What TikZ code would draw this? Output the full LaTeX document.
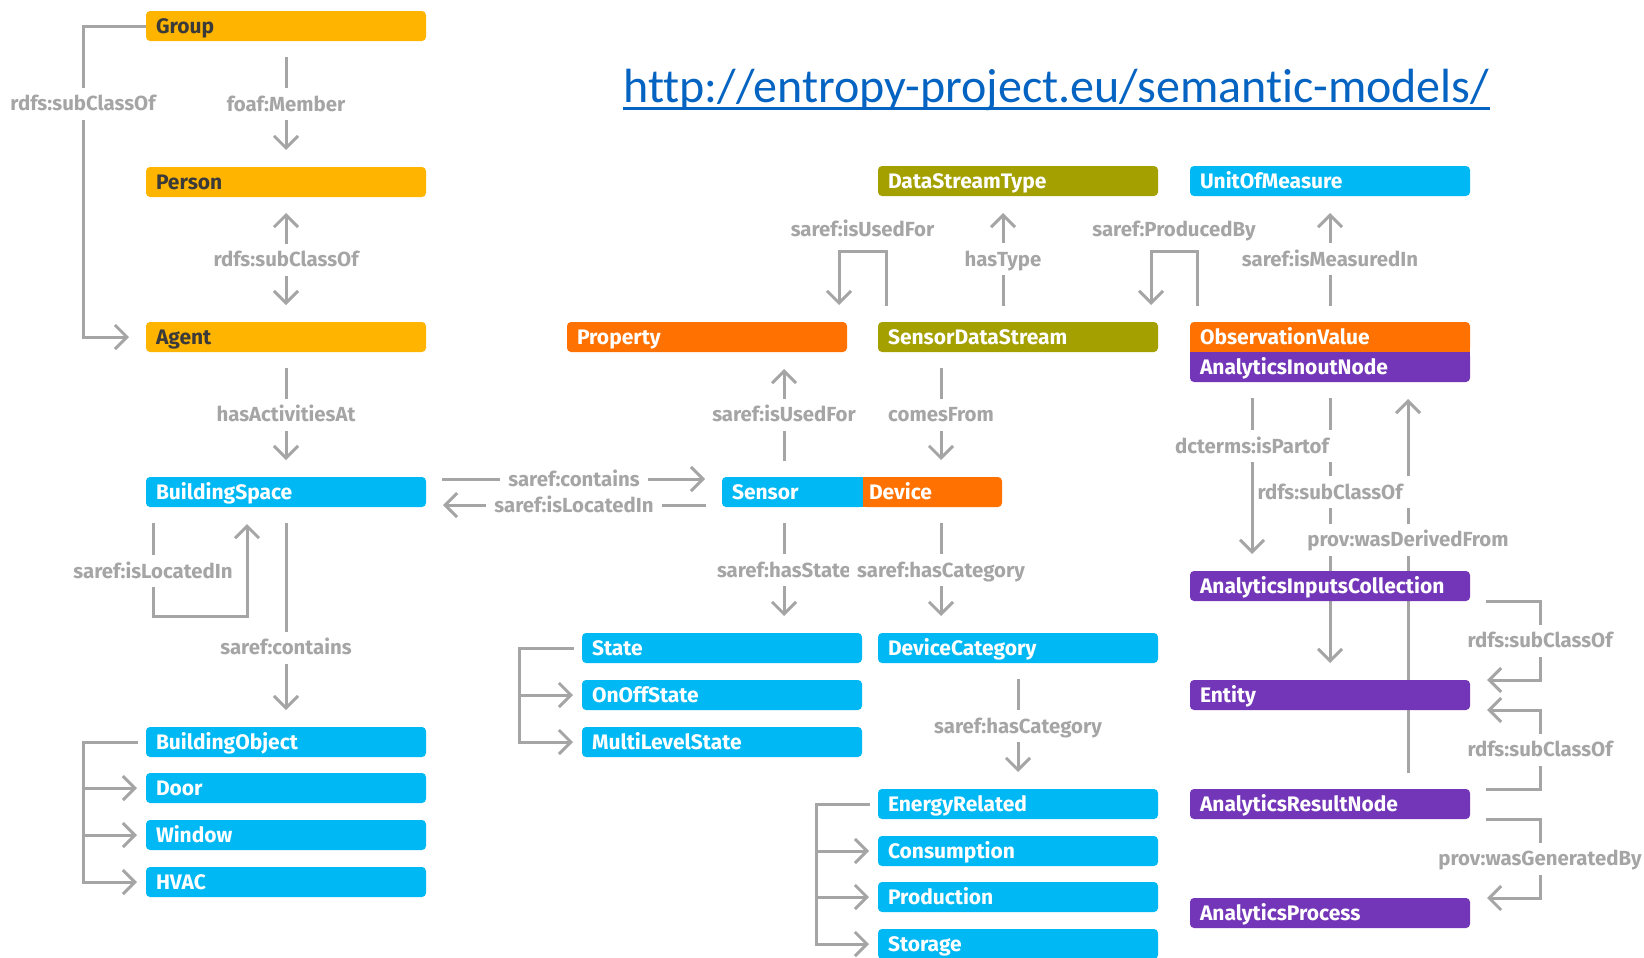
\documentclass[tikz,border=0pt]{standalone}
\usepackage{fontspec}
\setmainfont{Fira Sans}
\newfontfamily\linkfont{Carlito}[Ligatures=NoCommon]
\usetikzlibrary{arrows.meta,calc,positioning}
\definecolor{agentyellow}{HTML}{FFB400}
\definecolor{sarefblue}{HTML}{00B9F4}
\definecolor{sareforange}{HTML}{FF7100}
\definecolor{streamolive}{HTML}{A3A000}
\definecolor{provpurple}{HTML}{7436B8}
\definecolor{relgray}{HTML}{A5A5A5}
\definecolor{darktext}{HTML}{3A3A3A}
\definecolor{linkblue}{HTML}{0563C1}
\pgfdeclarelayer{bg}
\pgfsetlayers{bg,main}
\tikzset{
	barb/.tip={Straight Barb[length=6pt,width=12pt]},
	cls/.style={% class boxes with left aligned names
		rectangle, rounded corners=2pt,
		minimum width=140pt, minimum height=15pt,
		text width=130pt, inner xsep=5pt, outer sep=0pt,
		text height=7.2pt, text depth=0pt,
		align=left, anchor=north west,
		font=\bfseries\fontsize{10.5}{12}\selectfont, text=white
	},
	foaf/.style={cls, fill=agentyellow, text=darktext},
	saref/.style={cls, fill=sarefblue},
	prop/.style={cls, fill=sareforange},
	stream/.style={cls, fill=streamolive},
	prov/.style={cls, fill=provpurple},
	rel/.style={draw=relgray, line width=1.5pt, -barb,
		shorten <=8pt, shorten >=8.5pt},
	lbl/.style={fill=white, text=relgray,
		inner xsep=4pt, inner ysep=4.5pt,
		text height=7pt, text depth=0pt,
		font=\bfseries\fontsize{10.2}{12}\selectfont}
}

\begin{document}
\begin{tikzpicture}[x=0.5pt,y=-0.5pt]
	\useasboundingbox (0,0) rectangle (1644,958);
	% classes
	\node [foaf] (group) at (146,11) {Group};
	\node [foaf] (person) at (146,167) {Person};
	\node [foaf] (agent) at (146,322) {Agent};
	\node [saref] (bspace) at (146,477) {BuildingSpace};
	\node [saref] (bobject) at (146,727) {BuildingObject};
	\node [saref] (door) at (146,773) {Door};
	\node [saref] (window) at (146,820) {Window};
	\node [saref] (hvac) at (146,867) {HVAC};
	\node [prop] (property) at (567,322) {Property};
	\node [saref, minimum width=70.5pt, text width=60.5pt] (sensor) at (722,477) {Sensor};
	\node [prop, minimum width=69.5pt, text width=63.5pt, inner xsep=3pt] (device) at (sensor.north east) {Device};
	\node [saref] (state) at (582,633) {State};
	\node [saref] (onoff) at (582,680) {OnOffState};
	\node [saref] (multilevel) at (582,727) {MultiLevelState};
	\node [stream] (dstype) at (878,166) {DataStreamType};
	\node [stream] (sdstream) at (878,322) {SensorDataStream};
	\node [saref] (devcat) at (878,633) {DeviceCategory};
	\node [saref] (energy) at (878,789) {EnergyRelated};
	\node [saref] (consumption) at (878,836) {Consumption};
	\node [saref] (production) at (878,882) {Production};
	\node [saref] (storage) at (878,929) {Storage};
	\node [saref] (unit) at (1190,166) {UnitOfMeasure};
	\node [prop] (obsval) at (1190,322) {ObservationValue};
	\node [prov] (ainode) at (obsval.south west) {AnalyticsInoutNode};
	\node [prov] (aicoll) at (1190,571) {AnalyticsInputsCollection};
	\node [prov] (entity) at (1190,680) {Entity};
	\node [prov] (aresult) at (1190,789) {AnalyticsResultNode};
	\node [prov] (aprocess) at (1190,898) {AnalyticsProcess};
	\node [text=linkblue, font=\linkfont\fontsize{24}{28}\selectfont, inner sep=0pt, anchor=base west] (link) at (623,102) {http://entropy-project.eu/semantic-models/};
	\draw [linkblue, line width=1.5pt] ([yshift=-3pt]link.base west) -- ([yshift=-3pt]link.base east);

	\begin{pgfonlayer}{bg}
	% square joints of the split boxes
	\fill [sarefblue] ([xshift=-3pt]sensor.north east) rectangle (sensor.south east);
	\fill [sareforange] (device.north west) rectangle ([xshift=3pt]device.south west);
	\fill [sareforange] ([yshift=3pt]obsval.south west) rectangle (obsval.south east);
	\fill [provpurple] (ainode.north west) rectangle ([yshift=-3pt]ainode.north east);

	\draw [rel, shorten <=0pt] (group.west) -- ++(-63,0) |- node [lbl, pos=.125] {rdfs:subClassOf} (agent.west);
	\draw [rel] (group.south) -- node [lbl] {foaf:Member} (person.north);
	\draw [rel, barb-barb] (person.south) -- node [lbl] {rdfs:subClassOf} (agent.north);
	\draw [rel] (agent.south) -- node [lbl] {hasActivitiesAt} (bspace.north);
	\draw [rel] ([xshift=3.5pt]bspace.south west) -- node [lbl, pos=.59] {saref:isLocatedIn} ++(0,109) -| ([xshift=-19.5pt]bspace.south);
	\draw [rel] (bspace.south) -- node [lbl, pos=.64] {saref:contains} (bobject.north);
	\draw [rel, shorten <=4pt, shorten >=4.5pt] (bobject.west) -| ([xshift=-31.5pt]hvac.west) -- (hvac.west);
	\foreach \leaf in {door,window}
		\draw [rel, shorten <=0pt, shorten >=4.5pt] ([xshift=-31.5pt]\leaf.west) -- (\leaf.west);

	\draw [rel] ([yshift=-1pt]bspace.north east) -- node [lbl] {saref:contains} ([yshift=-1pt]sensor.north west);
	\draw [rel] ([yshift=1pt]sensor.south west) -- node [lbl] {saref:isLocatedIn} ([yshift=1pt]bspace.south east);
	\draw [rel] ([xshift=-4.25pt]sensor.north) -- node [lbl] {saref:isUsedFor} ([xshift=38.5pt]property.south);
	\draw [rel] ([xshift=-38.5pt]sdstream.south) -- node [lbl] {comesFrom} ([xshift=4.25pt]device.north);
	\draw [rel] ([xshift=-4.25pt]sensor.south) -- node [lbl] {saref:hasState} ([xshift=31pt]state.north);
	\draw [rel] ([xshift=4.25pt]device.south) -- node [lbl] {saref:hasCategory} ([xshift=-38.5pt]devcat.north);
	\draw [rel, shorten <=4pt, shorten >=4.5pt] (state.west) -| ([xshift=-31.5pt]multilevel.west) -- (multilevel.west);
	\draw [rel, shorten <=0pt, shorten >=4.5pt] ([xshift=-31.5pt]onoff.west) -- (onoff.west);
	\draw [rel] (devcat.south) -- node [lbl] {saref:hasCategory} (energy.north);
	\draw [rel, shorten <=4pt, shorten >=4.5pt] (energy.west) -| ([xshift=-31pt]storage.west) -- (storage.west);
	\foreach \leaf in {consumption,production}
		\draw [rel, shorten <=0pt, shorten >=4.5pt] ([xshift=-31pt]\leaf.west) -- (\leaf.west);

	\draw [rel] ([xshift=4pt]sdstream.north west) -- ++(0,-71) -| node [lbl, pos=.25, yshift=11pt] {saref:isUsedFor} ([xshift=-4pt]property.north east);
	\draw [rel] ([xshift=3.5pt]obsval.north west) -- ++(0,-71) -| node [lbl, pos=.25, yshift=11pt] {saref:ProducedBy} ([xshift=-3.5pt]sdstream.north east);
	\draw [rel] ([xshift=-7.5pt]sdstream.north) -- node [lbl] {hasType} ([xshift=-7.5pt]dstype.south);
	\draw [rel] (obsval.north) -- node [lbl] {saref:isMeasuredIn} (unit.south);

	\draw [rel] (ainode.south) -- (entity.north);
	\draw [rel] ([xshift=39pt]aresult.north) -- ([xshift=39pt]ainode.south);
	\path (ainode.south) -- node [lbl, pos=.37] {rdfs:subClassOf} (entity.north);
	\path ([xshift=39pt]aresult.north) -- node [lbl, pos=.613] {prov:wasDerivedFrom} ([xshift=39pt]ainode.south);
	\draw [rel] ([xshift=-39pt]ainode.south) -- node [lbl, pos=.34] {dcterms:isPartof} ([xshift=-39pt]aicoll.north);
	\draw [rel] (aicoll.south east) -- ++(70,0) |- node [lbl, pos=.25] {rdfs:subClassOf} (entity.north east);
	\draw [rel] (aresult.north east) -- ++(70,0) |- node [lbl, pos=.25] {rdfs:subClassOf} (entity.south east);
	\draw [rel] (aresult.south east) -- ++(70,0) |- node [lbl, pos=.25] {prov:wasGeneratedBy} (aprocess.north east);
	\end{pgfonlayer}
\end{tikzpicture}
\end{document}
